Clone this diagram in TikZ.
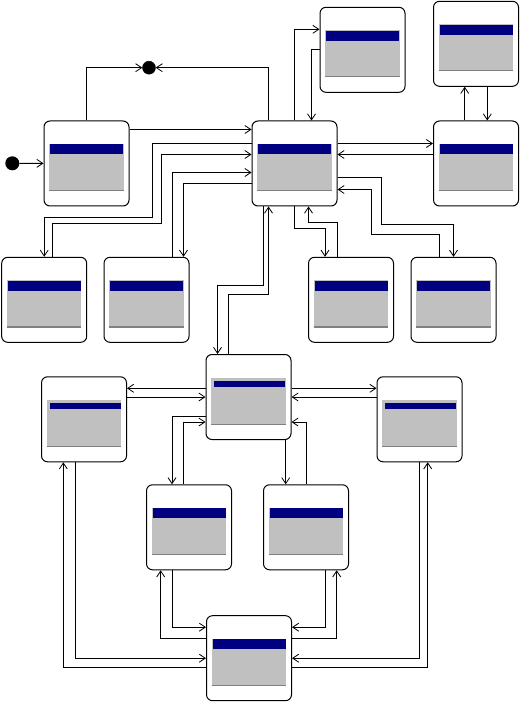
\documentclass[tikz,border=0pt]{standalone}
\usepackage{xcolor}
\usepackage{tikz}
\usetikzlibrary{arrows.meta, calc}
\definecolor{panelgray}{RGB}{192, 192, 192}
\definecolor{barblue}{RGB}{0, 0, 128}
\definecolor{panelline}{RGB}{128, 128, 128}

% inner panel of a state: bar inset, bar top, bar bottom
\newcommand{\statepanel}[3]{%
  \coordinate (pp) at (path picture bounding box.north west);
  \fill[panelgray, sharp corners] ($(pp)+(5,23)$) rectangle ($(pp)+(79.5,70)$);
  \fill[barblue, sharp corners] ($(pp)+(#1,#2)$) rectangle ($(pp)+(79,#3)$);
  \draw[panelline, line width=1.2pt, sharp corners] ($(pp)+(5,69.6)$) -- ($(pp)+(79.5,69.6)$);
}

\tikzset{
  umlstate/.style={draw, line width=1pt, rounded corners=6pt, minimum width=85pt,
    minimum height=85pt, inner sep=0pt, path picture={\statepanel{6}{23.5}{33.5}}},
  umlstatethin/.style={umlstate, path picture={\statepanel{8}{26}{32.5}}},
  initdot/.style={circle, fill=black, minimum size=14pt, inner sep=0pt},
  finaldot/.style={circle, draw, fill=black, minimum size=13pt, inner sep=0pt},
  trans/.style={line width=0.9pt, -{Straight Barb[length=6pt, width=8pt, line width=0.8pt]}},
}

\begin{document}
\begin{tikzpicture}[x=1pt, y=-1pt]
    \useasboundingbox (0,0) rectangle (519,703);

    % States, upper part
    \node[initdot] (init) at (12.3,163.3) {};
    \node[finaldot] (fin) at (149,67.7) {};
    \node[umlstate] (A) at (86.5,163.5) {};
    \node[umlstate] (M) at (294.5,163.5) {};
    \node[umlstate] (N1) at (362.5,49.8) {};
    \node[umlstate] (N2) at (476,43.8) {};
    \node[umlstate] (N3) at (476,163.5) {};
    \node[umlstate] (B1) at (44.2,299.8) {};
    \node[umlstate] (B2) at (146.5,299.8) {};
    \node[umlstate] (B3) at (351,299.8) {};
    \node[umlstate] (B4) at (453.5,299.8) {};

    % States, lower part
    \node[umlstatethin] (C) at (248.5,397) {};
    \node[umlstatethin] (D1) at (84,419.3) {};
    \node[umlstatethin] (D2) at (419.5,419.3) {};
    \node[umlstate] (E1) at (189,527.3) {};
    \node[umlstate] (E2) at (306,527.3) {};
    \node[umlstate] (F) at (249,658.2) {};

    % Transitions around A and M
    \draw[trans] (init) -- (A);
    \draw[trans] (A.north) |- (fin);
    \draw[trans] ($(M.north)+(-26,0)$) |- (fin);
    \draw[trans] ($(A.east)+(0,-34)$) -- ($(M.west)+(0,-34)$);
    \draw[trans] ($(M.west)+(0,-20)$) -| (152.3,217) -| (B1.north);
    \draw[trans] ($(B1.north)+(8,0)$) |- (161.3,223.3) |- ($(M.west)+(0,-9)$);
    \draw[trans] ($(B2.north)+(26,0)$) |- ($(M.west)+(0,9)$);
    \draw[trans] ($(M.west)+(0,20)$) -| ($(B2.north)+(37,0)$);
    \draw[trans] (M.north) |- ($(N1.west)+(0,-20.5)$);
    \draw[trans] (N1.west) -| ($(M.north)+(17,0)$);
    \draw[trans] ($(M.east)+(0,-20)$) -- ($(N3.west)+(0,-20)$);
    \draw[trans] ($(N3.west)+(0,-9)$) -- ($(M.east)+(0,-9)$);
    \draw[trans] ($(N3.north)+(-11.3,0)$) -- ($(N2.south)+(-11.3,0)$);
    \draw[trans] ($(N2.south)+(11.3,0)$) -- ($(N3.north)+(11.3,0)$);
    \draw[trans] (M.south) -- ++(0,22) -| ($(B3.north)+(-26,0)$);
    \draw[trans] ($(B3.north)+(-14,0)$) -- ++(0,-34) -| ($(M.south)+(14,0)$);
    \draw[trans] ($(M.east)+(0,14)$) -| (381.7,224.3) -| (B4.north);
    \draw[trans] ($(B4.north)+(-14,0)$) |- (371.7,234) |- ($(M.east)+(0,26)$);
    \draw[trans] ($(M.south)+(-31,0)$) -- ++(0,79.3) -| ($(C.north)+(-31,0)$);
    \draw[trans] ($(C.north)+(-20,0)$) -- ++(0,-59.4) -| ($(M.south)+(-26,0)$);

    % Transitions around C
    \draw[trans] ($(C.west)+(0,-8.7)$) -- ($(D1.east)+(0,-31)$);
    \draw[trans] ($(D1.east)+(0,-22.3)$) -- (C.west);
    \draw[trans] ($(C.east)+(0,-8.7)$) -- ($(D2.west)+(0,-31)$);
    \draw[trans] ($(D2.west)+(0,-22.3)$) -- (C.east);
    \draw[trans] ($(C.west)+(0,19)$) -| ($(E1.north)+(-17,0)$);
    \draw[trans] ($(E1.north)+(-6,0)$) |- ($(C.west)+(0,25)$);
    \draw[trans] ($(C.south)+(37.2,0)$) -- ($(E2.north)+(-20.3,0)$);
    \draw[trans] (E2.north) |- ($(C.east)+(0,25)$);

    % Transitions around F
    \draw[trans] ($(E1.south)+(-17,0)$) |- ($(F.west)+(0,-31)$);
    \draw[trans] ($(F.west)+(0,-20)$) -| ($(E1.south)+(-28.3,0)$);
    \draw[trans] ($(E2.south)+(19.3,0)$) |- ($(F.east)+(0,-31)$);
    \draw[trans] ($(F.east)+(0,-20)$) -| ($(E2.south)+(30.7,0)$);
    \draw[trans] ($(D1.south)+(-8.7,0)$) |- (F.west);
    \draw[trans] ($(F.west)+(0,9)$) -| ($(D1.south)+(-20.7,0)$);
    \draw[trans] (D2.south) |- (F.east);
    \draw[trans] ($(F.east)+(0,9)$) -| ($(D2.south)+(8.2,0)$);
\end{tikzpicture}
\end{document}
